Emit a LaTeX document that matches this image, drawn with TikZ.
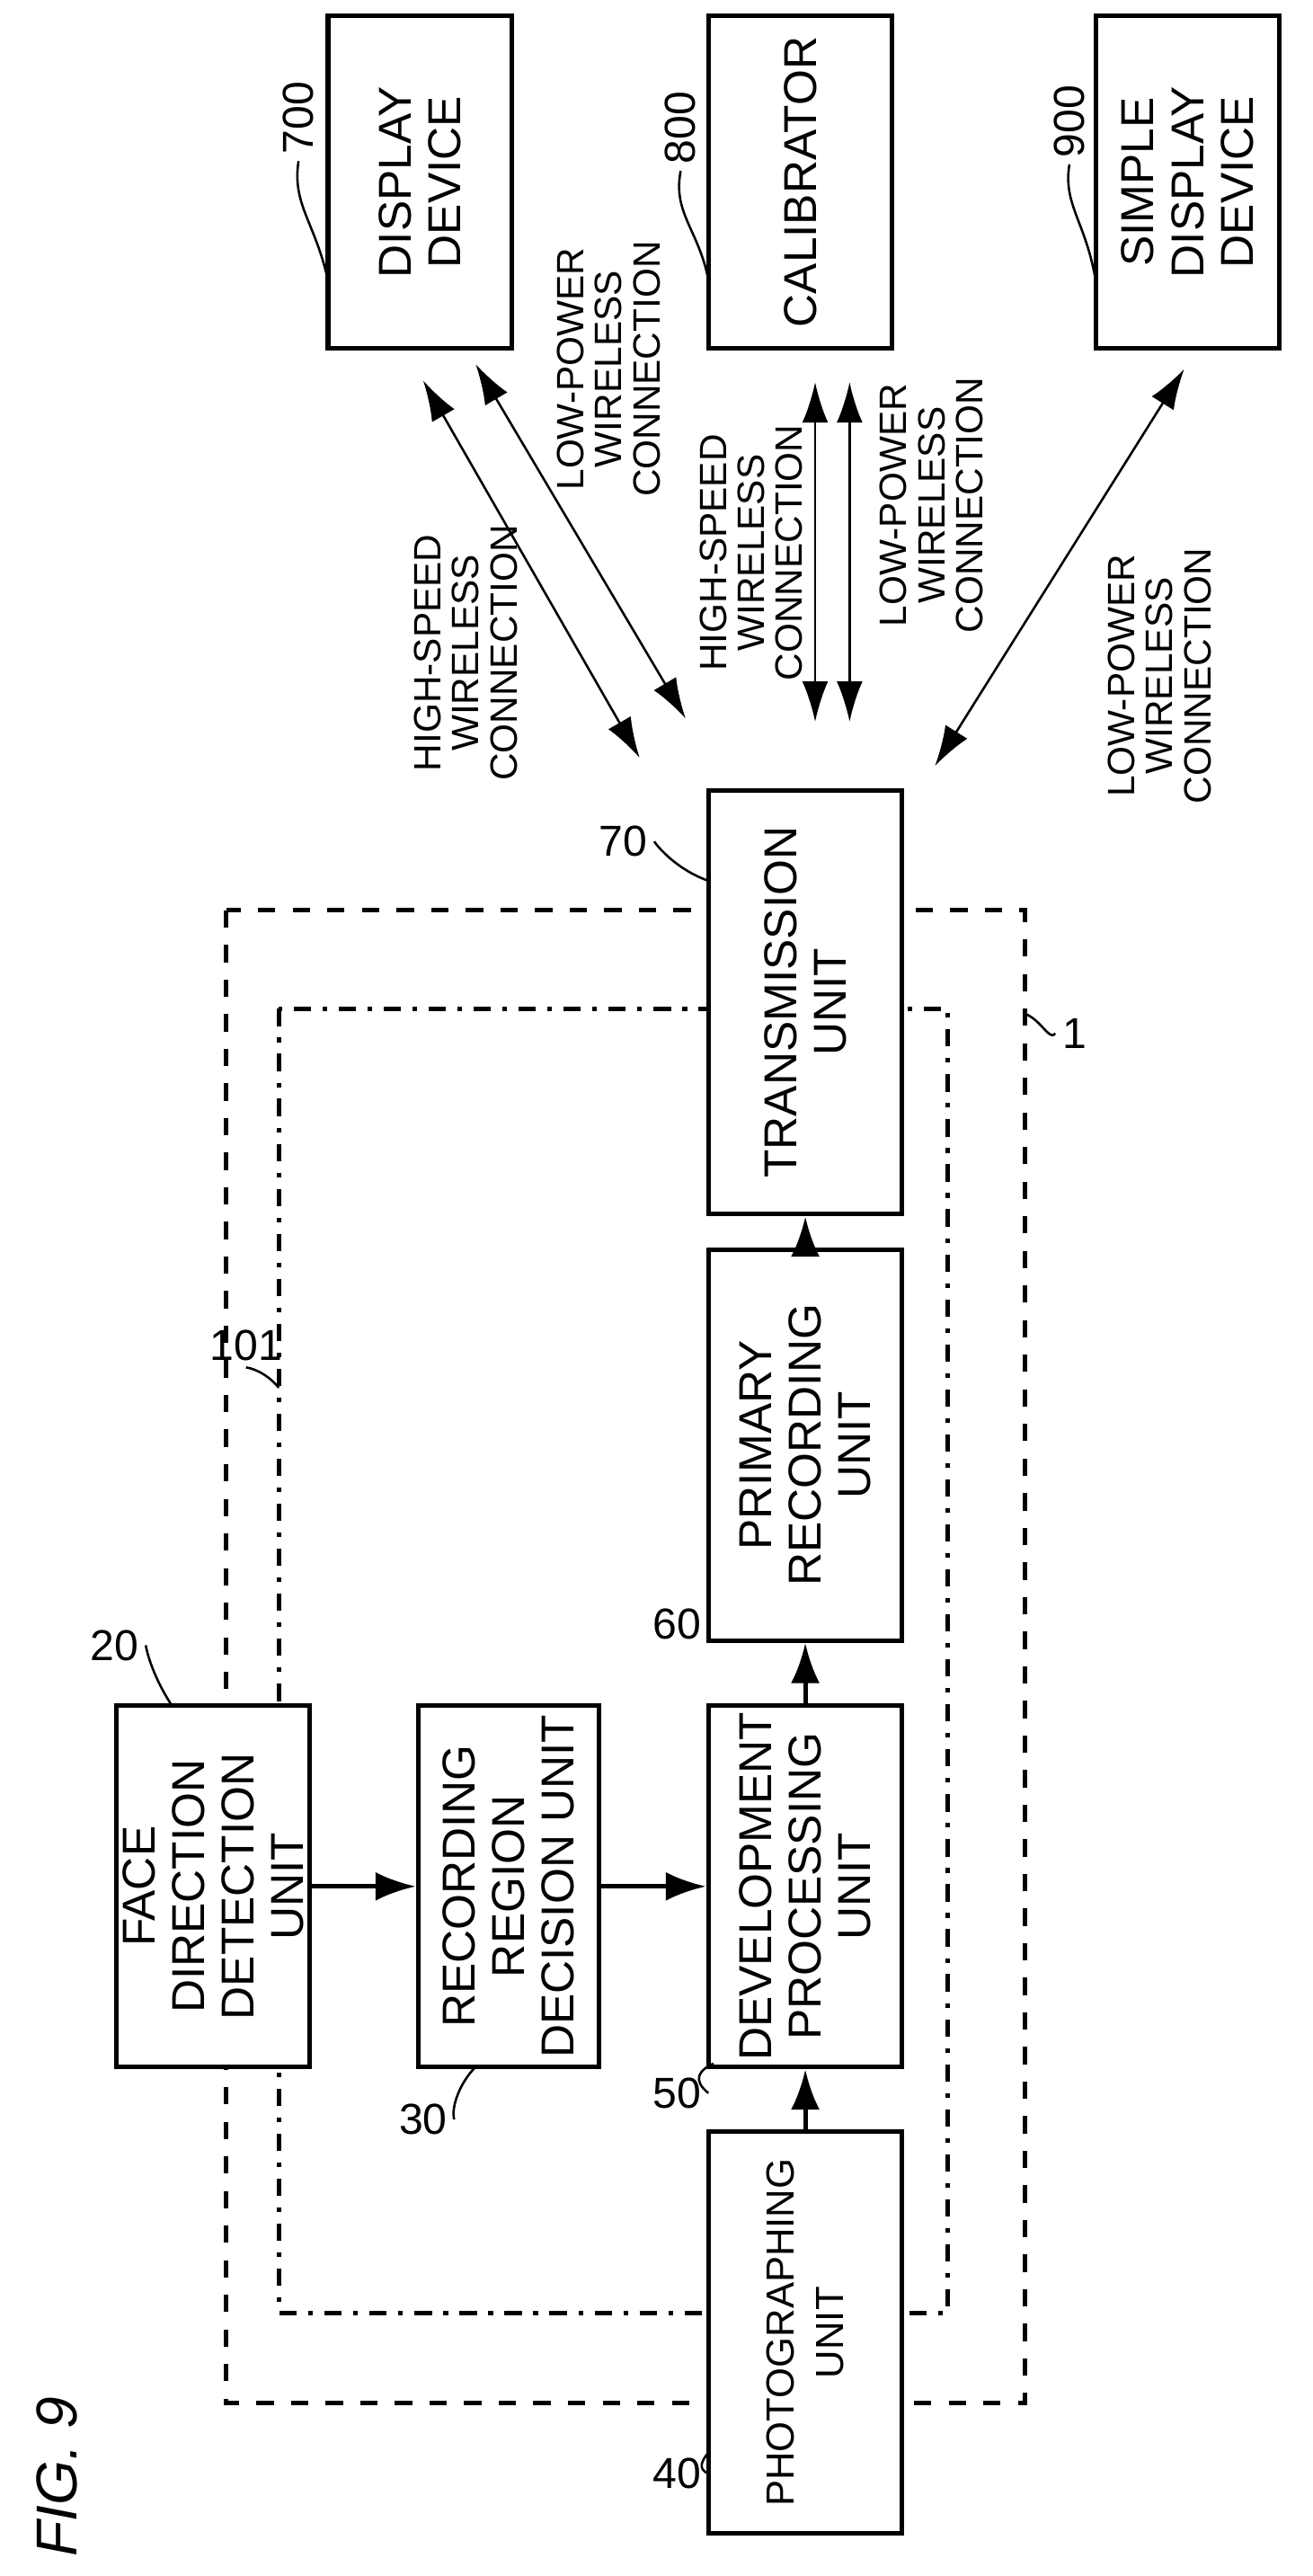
\documentclass[tikz,border=0pt]{standalone}
\usepackage{fontspec}
\setmainfont{Liberation Sans}
\usepackage{tikz}
\usetikzlibrary{positioning,arrows.meta,calc}

\tikzset{
  unit/.style={draw,thick,fill=white,rotate=90,align=center,inner sep=1pt,
    font=\fontsize{8}{8.6}\selectfont},
  wlabel/.style={rotate=90,align=center,inner sep=0pt,
    font=\fontsize{6.6}{6.6}\selectfont},
  num/.style={inner sep=1pt,font=\fontsize{7.5}{8}\selectfont},
  lead/.style={thin},
  flow/.style={thick,-{Latex[length=7pt,width=5pt]}},
  wire/.style={thin,{Latex[length=7pt,width=4.5pt]}-{Latex[length=7pt,width=4.5pt]}}
}

\begin{document}
\begin{tikzpicture}[x=0.01cm,y=-0.01cm]
\useasboundingbox (0,0) rectangle (800,1570.4);

% housings
\draw[thick,dashed] (138,555) rectangle (625,1465);
\draw[thick,dash dot] (170,615) rectangle (578,1410);

% external devices
\node[unit,minimum width=2.03cm,minimum height=1.12cm] (disp) at (256,111) {DISPLAY\\DEVICE};
\node[unit,minimum width=2.03cm,minimum height=1.12cm] (calib) at (488,111) {CALIBRATOR};
\node[unit,minimum width=2.03cm,minimum height=1.12cm] (simple) at (724,111) {SIMPLE\\DISPLAY\\DEVICE};

% camera units
\node[unit,minimum width=2.58cm,minimum height=1.18cm] (trans) at (491,611) {TRANSMISSION\\UNIT};
\node[unit,minimum width=2.38cm,minimum height=1.18cm] (prim) at (491,881) {PRIMARY\\RECORDING\\UNIT};
\node[unit,minimum width=2.20cm,minimum height=1.18cm] (dev) at (491,1150) {DEVELOPMENT\\PROCESSING\\UNIT};
\node[unit,minimum width=2.45cm,minimum height=1.18cm,font=\fontsize{6.8}{8.6}\selectfont] (photo) at (491,1422) {PHOTOGRAPHING\\UNIT};
\node[unit,minimum width=2.20cm,minimum height=1.10cm] (face) at (130,1150) {FACE\\DIRECTION\\DETECTION\\UNIT};
\node[unit,minimum width=2.20cm,minimum height=1.10cm] (rec) at (310,1150) {RECORDING\\REGION\\DECISION UNIT};

% data flow
\draw[flow] (photo.east) -- (dev.west);
\draw[flow] (dev.east) -- (prim.west);
\draw[flow] (prim.east) -- (trans.west);
\draw[flow] (face.south) -- (rec.north);
\draw[flow] (rec.south) -- (dev.north);

% wireless links
\coordinate (d1) at (258,232); \coordinate (t1) at (390,462);
\coordinate (d2) at (290,222); \coordinate (t2) at (418,438);
\coordinate (c1) at (497,233); \coordinate (t3) at (497,440);
\coordinate (c2) at (518,233); \coordinate (t4) at (518,440);
\coordinate (s1) at (722,225); \coordinate (t5) at (570,467);
\draw[wire] (d1) -- (t1);
\draw[wire] (d2) -- (t2);
\draw[wire] (c1) -- (t3);
\draw[wire] (c2) -- (t4);
\draw[wire] (s1) -- (t5);
\node[wlabel] (hs1) at (284,398) {HIGH-SPEED\\WIRELESS\\CONNECTION};
\node[wlabel] (lp1) at (371,225) {LOW-POWER\\WIRELESS\\CONNECTION};
\node[wlabel] (hs2) at (458,337) {HIGH-SPEED\\WIRELESS\\CONNECTION};
\node[wlabel] (lp2) at (568,308) {LOW-POWER\\WIRELESS\\CONNECTION};
\node[wlabel] (lp3) at (707,412) {LOW-POWER\\WIRELESS\\CONNECTION};

% reference numerals
\node[num,rotate=90] (n700) at (182,72) {700};
\node[num,rotate=90] (n800) at (415,78) {800};
\node[num,rotate=90] (n900) at (652,74) {900};
\draw[lead] (n700.west) .. controls (178,125) and (192,135) .. (200,171);
\draw[lead] (n800.west) .. controls (410,130) and (426,140) .. (432,171);
\draw[lead] (n900.west) .. controls (648,125) and (662,135) .. (668,171);
\node[num] (n20) at (70,1003) {20};
\draw[lead] (n20.east) .. controls (90,1010) and (95,1025) .. (105,1040);
\node[num] (n30) at (258,1292) {30};
\draw[lead] (n30.east) .. controls (275,1285) and (280,1270) .. (290,1260);
\node[num] (n40) at (413,1508) {40};
\draw[lead] (n40.east) .. controls (425,1505) and (428,1500) .. (432,1495);
\node[num] (n50) at (413,1276) {50};
\draw[lead] (n50.east) .. controls (422,1268) and (426,1262) .. (435,1258);
\node[num] (n60) at (413,990) {60};
\node[num] (n70) at (380,513) {70};
\draw[lead] (n70.east) .. controls (400,515) and (412,530) .. (432,537);
\node[num] (n101) at (150,820) {101};
\draw[lead] (n101.south) .. controls (158,835) and (165,840) .. (170,846);
\node[num] (n1) at (655,630) {1};
\draw[lead] (n1.west) .. controls (640,635) and (635,622) .. (625,618);

\node[rotate=90,font=\fontsize{10}{10}\itshape] (fig) at (35,1510) {FIG. 9};
\end{tikzpicture}
\end{document}
